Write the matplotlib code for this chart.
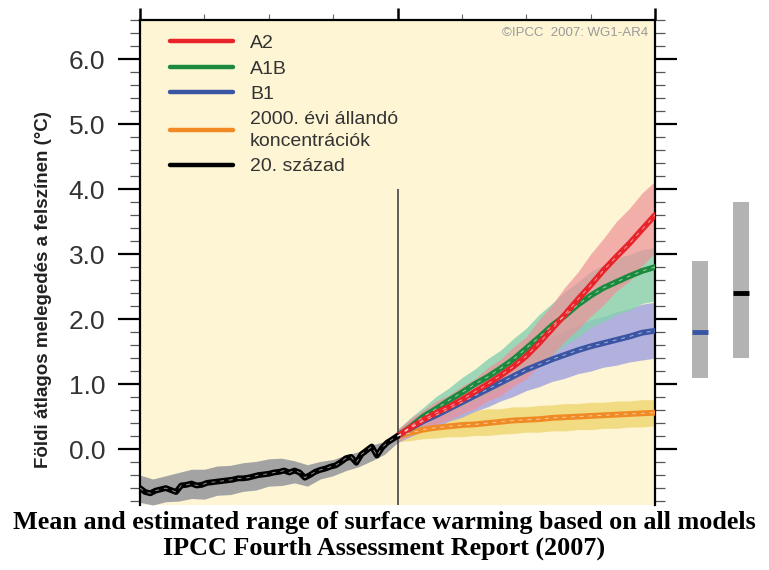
import numpy as np
import matplotlib
matplotlib.use('Agg')
import matplotlib.pyplot as plt
from matplotlib.ticker import MultipleLocator, FormatStrFormatter

plt.rcParams['font.family'] = ['Liberation Sans', 'DejaVu Sans']

# 20th century ensemble mean (2-year steps) and spread (5-year steps)
hist_years = list(range(1900, 2001, 2))
hist_mean = [-0.60, -0.66, -0.68, -0.64, -0.62, -0.60, -0.63, -0.66, -0.56, -0.55,
             -0.53, -0.56, -0.55, -0.52, -0.51, -0.50, -0.49, -0.48, -0.47, -0.45,
             -0.45, -0.44, -0.42, -0.40, -0.39, -0.38, -0.36, -0.35, -0.33, -0.36,
             -0.33, -0.36, -0.44, -0.40, -0.35, -0.32, -0.30, -0.27, -0.25, -0.20,
             -0.14, -0.12, -0.21, -0.08, -0.02, 0.04, -0.10, 0.02, 0.10, 0.15, 0.20]
band_years_h = list(range(1900, 2001, 5))
hist_lo = [-0.82, -0.86, -0.81, -0.80, -0.76, -0.77, -0.71, -0.70, -0.65, -0.63, -0.57,
           -0.56, -0.52, -0.57, -0.46, -0.41, -0.33, -0.27, -0.18, -0.08, 0.10]
hist_hi = [-0.40, -0.46, -0.41, -0.36, -0.31, -0.31, -0.26, -0.25, -0.21, -0.19, -0.15,
           -0.14, -0.18, -0.24, -0.19, -0.16, -0.09, -0.04, 0.06, 0.12, 0.28]

# scenarios 2000-2100 (5-year steps)
scen_years = list(range(2000, 2101, 5))
a2_mean = [0.20, 0.33, 0.45, 0.56, 0.65, 0.76, 0.88, 1.00, 1.13, 1.27, 1.43,
           1.63, 1.85, 2.07, 2.30, 2.52, 2.75, 2.96, 3.16, 3.38, 3.60]
a2_lo = [0.10, 0.21, 0.30, 0.39, 0.45, 0.55, 0.62, 0.74, 0.82, 0.97, 1.08,
         1.29, 1.45, 1.66, 1.84, 2.04, 2.22, 2.43, 2.58, 2.82, 3.02]
a2_hi = [0.30, 0.47, 0.60, 0.74, 0.83, 0.97, 1.08, 1.25, 1.38, 1.57, 1.73,
         1.99, 2.22, 2.49, 2.72, 3.00, 3.24, 3.50, 3.70, 3.94, 4.12]
a1b_mean = [0.20, 0.34, 0.50, 0.62, 0.75, 0.87, 1.00, 1.11, 1.24, 1.38, 1.55,
            1.72, 1.90, 2.05, 2.22, 2.36, 2.48, 2.57, 2.66, 2.74, 2.80]
a1b_lo = [0.10, 0.23, 0.35, 0.46, 0.55, 0.65, 0.74, 0.84, 0.93, 1.05, 1.15,
          1.31, 1.45, 1.60, 1.72, 1.87, 1.96, 2.07, 2.13, 2.24, 2.28]
a1b_hi = [0.30, 0.48, 0.64, 0.81, 0.94, 1.10, 1.23, 1.39, 1.52, 1.70, 1.86,
          2.07, 2.24, 2.42, 2.57, 2.73, 2.83, 2.94, 2.99, 3.07, 3.10]
b1_mean = [0.20, 0.32, 0.43, 0.52, 0.62, 0.72, 0.82, 0.92, 1.02, 1.12, 1.22,
           1.30, 1.38, 1.45, 1.52, 1.58, 1.63, 1.68, 1.73, 1.79, 1.82]
b1_lo = [0.10, 0.19, 0.28, 0.34, 0.43, 0.49, 0.58, 0.65, 0.74, 0.81, 0.90,
         0.96, 1.04, 1.09, 1.16, 1.20, 1.26, 1.29, 1.34, 1.37, 1.40]
b1_hi = [0.30, 0.45, 0.58, 0.70, 0.81, 0.94, 1.05, 1.18, 1.29, 1.42, 1.53,
         1.64, 1.73, 1.83, 1.90, 1.99, 2.04, 2.11, 2.16, 2.23, 2.26]
com_mean = [0.20, 0.25, 0.30, 0.33, 0.35, 0.37, 0.38, 0.40, 0.42, 0.44, 0.45,
            0.46, 0.48, 0.49, 0.50, 0.51, 0.52, 0.53, 0.54, 0.55, 0.56]
com_lo = [0.12, 0.13, 0.16, 0.17, 0.19, 0.19, 0.21, 0.21, 0.23, 0.24, 0.26,
          0.26, 0.28, 0.28, 0.30, 0.30, 0.32, 0.32, 0.34, 0.34, 0.36]
com_hi = [0.28, 0.39, 0.46, 0.52, 0.55, 0.59, 0.59, 0.62, 0.62, 0.65, 0.65,
          0.67, 0.68, 0.70, 0.70, 0.72, 0.72, 0.74, 0.74, 0.76, 0.76]

# likely ranges at 2090-2099 (bars on the right)
bar_low = [1.1, 1.4]
bar_high = [2.9, 3.8]
bar_mean = [1.8, 2.4]
bar_mean_colors = ['#3a55a4', '#000000']

labels = ['A2', 'A1B', 'B1', '2000. évi állandó\nkoncentrációk', '20. század']

fig = plt.figure(figsize=(7.69, 5.70), dpi=100)
ax = fig.add_axes([140/769, 1-505/570, 515/769, 485/570])
ax.set_facecolor('#fdf5d3')

ax.fill_between(band_years_h, hist_lo, hist_hi, color='#a3a3a3', lw=0, zorder=2)
ax.fill_between(scen_years, com_lo, com_hi, color='#f0d775', alpha=0.85, lw=0, zorder=2)
ax.fill_between(scen_years, b1_lo, b1_hi, color='#aaaadf', alpha=0.9, lw=0, zorder=2)
ax.fill_between(scen_years, a1b_lo, a1b_hi, color='#86d0b2', alpha=0.8, lw=0, zorder=2)
ax.fill_between(scen_years, a2_lo, a2_hi, color='#ee9098', alpha=0.7, lw=0, zorder=2)

ax.vlines(2000, -0.9, 4.0, color='#333333', lw=1.1, zorder=3)

series = [
    (scen_years, a2_mean, '#e8232a'),
    (scen_years, a1b_mean, '#1b8a3e'),
    (scen_years, b1_mean, '#3a55a4'),
    (scen_years, com_mean, '#f08a24'),
    (hist_years, hist_mean, '#000000'),
]
# draw order: commitment, B1, A1B, A2 on top; then 20th century
handles = {}
for i in [3, 2, 1, 0, 4]:
    xs, ys, c = series[i]
    h, = ax.plot(xs, ys, color=c, lw=4.2, solid_capstyle='round', zorder=4)
    ax.plot(xs, ys, color='white', lw=0.7, alpha=0.55, dashes=(4, 5), zorder=5)
    handles[i] = h

leg = ax.legend([handles[i] for i in range(5)], labels,
                loc='upper left', bbox_to_anchor=(0.031, 0.998), frameon=False,
                fontsize=14, handlelength=3.25, handletextpad=0.88, labelspacing=0.4,
                borderaxespad=0.3)
for t in leg.get_texts():
    t.set_color('#333333')
    t.set_linespacing(1.4)
for l in leg.get_lines():
    l.set_linewidth(3.2)

ax.text(0.986, 0.973, '©IPCC  2007: WG1-AR4', transform=ax.transAxes, ha='right',
        va='center', fontsize=9.5, color='#9a9a9a')

ax.set_xlim(1900, 2100)
ax.set_ylim(-0.86, 6.6)
ax.xaxis.set_major_locator(MultipleLocator(100))
ax.xaxis.set_minor_locator(MultipleLocator(25))
ax.tick_params(axis='x', which='both', bottom=False, top=True, labelbottom=False,
               direction='out')
ax.tick_params(axis='x', which='major', length=9, width=1.8)
ax.tick_params(axis='x', which='minor', length=4, width=0.8, color='#666666')
ax.yaxis.set_major_locator(MultipleLocator(1.0))
ax.yaxis.set_minor_locator(MultipleLocator(0.2))
ax.yaxis.set_major_formatter(FormatStrFormatter('%.1f'))
ax.tick_params(axis='y', which='both', left=True, right=True, direction='out')
ax.tick_params(axis='y', which='major', length=16, width=1.6, labelsize=19,
               labelcolor='#333333', pad=9)
ax.tick_params(axis='y', which='minor', length=7, width=0.9, color='#555555')
ax.spines['bottom'].set_visible(False)
for s in ['left', 'right', 'top']:
    ax.spines[s].set_linewidth(1.6)

fig.text(44/769, 1-290/570, 'Földi átlagos melegedés a felszínen (°C)', rotation=90,
         ha='center', va='center', fontsize=13.5, fontweight='bold', color='#222222')

# bars at the right side
ax2 = fig.add_axes([680/769, 1-505/570, 80/769, 485/570])
ax2.set_ylim(-0.86, 6.6)
ax2.set_xlim(-0.488, 1.463)
ax2.axis('off')
idx = np.arange(len(bar_low))
ax2.bar(idx, np.array(bar_high) - np.array(bar_low), bottom=bar_low, width=0.39,
        color='#b3b3b3')
for i in idx:
    ax2.hlines(bar_mean[i], i - 0.195, i + 0.195, color=bar_mean_colors[i], lw=3.5)

fig.text(0.5, 1-522/570, 'Mean and estimated range of surface warming based on all models',
         ha='center', va='center', fontsize=18.8, fontweight='bold',
         family='Liberation Serif')
fig.text(0.5, 1-548/570, 'IPCC Fourth Assessment Report (2007)',
         ha='center', va='center', fontsize=18.8, fontweight='bold',
         family='Liberation Serif')

fig.savefig('out.png', dpi=100)
